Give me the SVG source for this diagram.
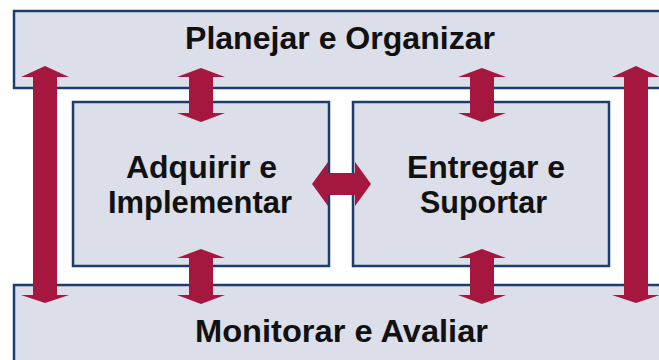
<svg xmlns="http://www.w3.org/2000/svg" width="659" height="360" viewBox="0 0 659 360">
<style>
.box{fill:#dcdee9;stroke:#1d3c70;stroke-width:2.5}
.arr{fill:#a5173f}
.t{font-family:"Liberation Sans",Arial,sans-serif;font-weight:bold;font-size:32px;fill:#111;text-anchor:middle}
</style>
<rect width="659" height="360" fill="#ffffff"/>
<g id="planejar">
<rect class="box" x="14" y="11" width="660" height="77"/>
<text class="t" x="340" y="49" textLength="310" lengthAdjust="spacingAndGlyphs">Planejar e Organizar</text>
</g>
<g id="monitorar">
<rect class="box" x="14" y="285" width="660" height="90"/>
<text class="t" x="341.5" y="342" textLength="293" lengthAdjust="spacingAndGlyphs">Monitorar e Avaliar</text>
</g>
<g id="adquirir">
<rect class="box" x="73" y="102" width="256" height="164"/>
<text class="t" x="201.5" y="178" textLength="151" lengthAdjust="spacingAndGlyphs">Adquirir e</text>
<text class="t" x="200" y="213" textLength="184" lengthAdjust="spacingAndGlyphs">Implementar</text>
</g>
<g id="entregar">
<rect class="box" x="353" y="102" width="256" height="164"/>
<text class="t" x="486" y="178" textLength="158" lengthAdjust="spacingAndGlyphs">Entregar e</text>
<text class="t" x="483.5" y="213" textLength="127" lengthAdjust="spacingAndGlyphs">Suportar</text>
</g>
<g id="connectors">
<polygon class="arr" points="45,66 69,77 57,77 57,295 69,295 45,303 21,295 33,295 33,77 21,77"/>
<polygon class="arr" points="636,66 660,77 648,77 648,295 660,295 636,303 612,295 624,295 624,77 612,77"/>
<polygon class="arr" points="201,68 225,77 213,77 213,113 225,113 201,122 177,113 189,113 189,77 177,77"/>
<polygon class="arr" points="482,68 506,77 494,77 494,113 506,113 482,122 458,113 470,113 470,77 458,77"/>
<polygon class="arr" points="201,249 225,258 213,258 213,295 225,295 201,304 177,295 189,295 189,258 177,258"/>
<polygon class="arr" points="482,249 506,258 494,258 494,295 506,295 482,304 458,295 470,295 470,258 458,258"/>
<polygon class="arr" points="312,184 328,162 328,173 355,173 355,162 371,184 355,206 355,195 328,195 328,206"/>
</g>
</svg>
